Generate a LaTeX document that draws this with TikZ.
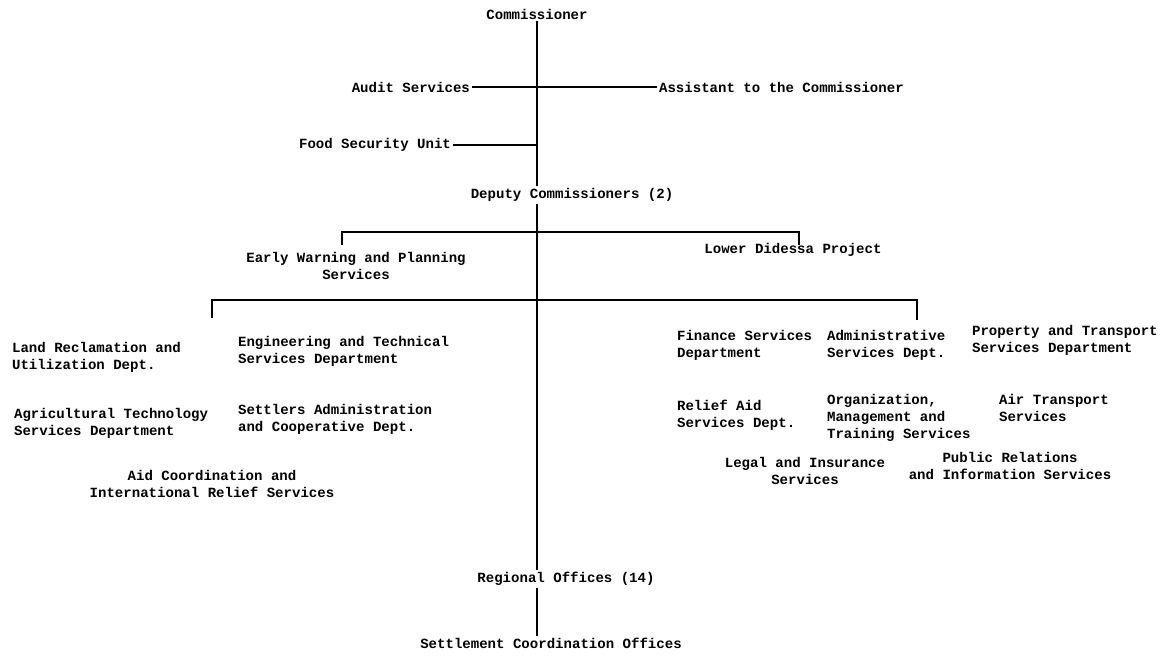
\documentclass[tikz,border=0pt]{standalone}
\usepackage{fontspec}
\setmonofont{Liberation Mono}
\begin{document}
\begin{tikzpicture}[x=0.02cm,y=-0.02cm,
  lbl/.style={inner sep=1pt,font=\ttfamily\bfseries\fontsize{8}{9.6}\selectfont},
  lblc/.style={lbl,align=center},
  lbll/.style={lbl,align=left,anchor=west},
  conn/.style={line width=0.9pt}]
\useasboundingbox (0,0) rectangle (1163,662);
% top
\node[lbl] (comm) at (537,14) {Commissioner};
\node[lbl,anchor=east] (audit) at (472,87) {Audit Services};
\node[lbl,anchor=west] (asst) at (657,87) {Assistant to the Commissioner};
\node[lbl,anchor=east] (food) at (453,145) {Food Security Unit};
\node[lbl] (dep) at (572,195) {Deputy Commissioners (2)};
\node[lblc] (ew) at (356,266) {Early Warning and Planning\\Services};
\node[lbl] (lower) at (793,250) {Lower Didessa Project};
% left departments
\node[lbll] (land) at (10,357) {Land Reclamation and\\Utilization Dept.};
\node[lbll] (eng) at (236,351) {Engineering and Technical\\Services Department};
\node[lbll] (agri) at (12,423) {Agricultural Technology\\Services Department};
\node[lbll] (settl) at (236,419) {Settlers Administration\\and Cooperative Dept.};
\node[lblc] (aid) at (212,484) {Aid Coordination and\\International Relief Services};
% right departments
\node[lbll] (fin) at (675,345) {Finance Services\\Department};
\node[lbll] (adm) at (825,345) {Administrative\\Services Dept.};
\node[lbll] (prop) at (970,340) {Property and Transport\\Services Department};
\node[lbll] (relief) at (675,415) {Relief Aid\\Services Dept.};
\node[lbll] (org) at (825,418) {Organization,\\Management and\\Training Services};
\node[lbll] (air) at (997,408) {Air Transport\\Services};
\node[lblc] (legal) at (805,471) {Legal and Insurance\\Services};
\node[lblc] (pr) at (1010,466) {Public Relations\\and Information Services};
% bottom
\node[lbl] (reg) at (566,579) {Regional Offices (14)};
\node[lbl] (sco) at (551,643) {Settlement Coordination Offices};
% spine coordinates
\coordinate (s1) at (537,145);
\coordinate (s2) at (537,87);
\coordinate (b1) at (537,232);
\coordinate (b2) at (537,300);
\coordinate (b1l) at (342,232);
\coordinate (b1r) at (799,232);
\coordinate (b2l) at (212,300);
\coordinate (b2r) at (917,300);
% connectors
\draw[conn] (comm.south -| s1) -- (dep.north -| s1);
\draw[conn] (dep.south -| s1) -- (reg.north -| s1);
\draw[conn] (reg.south -| s1) -- (sco.north -| s1);
\draw[conn] (audit.east) -- (asst.west);
\draw[conn] (food.east) -- (s1);
\draw[conn] (b1l) ++(0,13) -- (b1l) -- (b1r) -- ++(0,13);
\draw[conn] (b2l) ++(0,18) -- (b2l) -- (b2r) -- ++(0,20);
\end{tikzpicture}
\end{document}
